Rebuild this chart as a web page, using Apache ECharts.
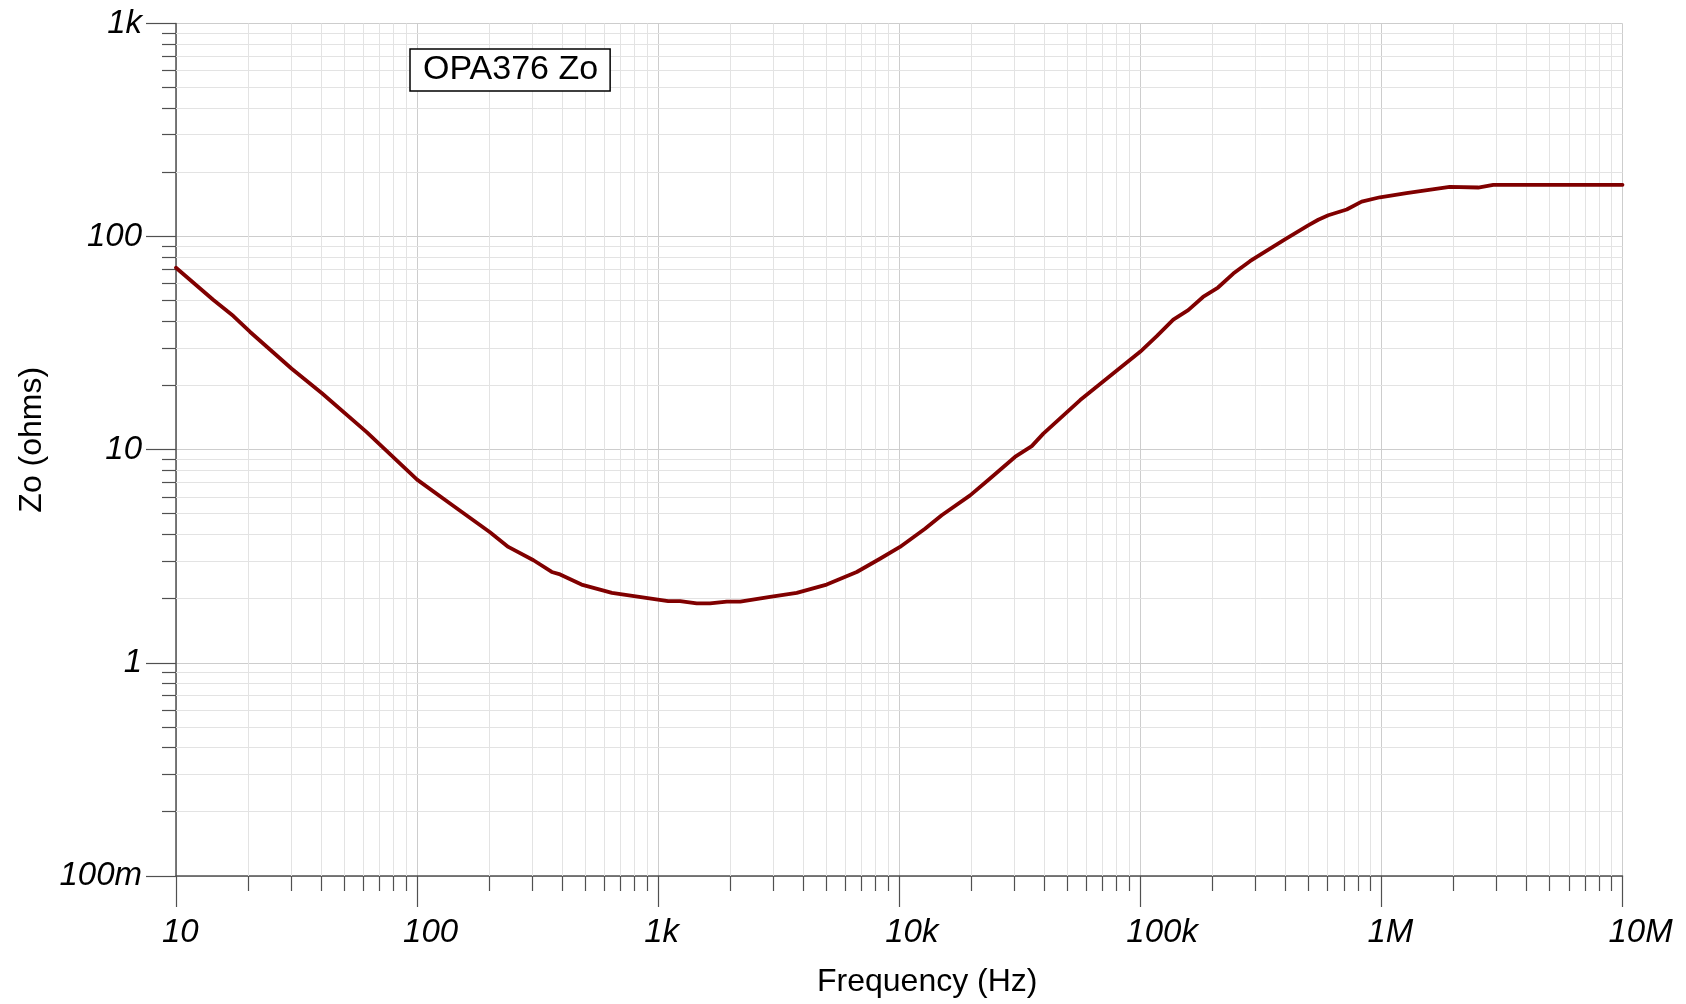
<!DOCTYPE html>
<html>
<head>
<meta charset="utf-8">
<style>
html,body{margin:0;padding:0;background:#fff;}
#chart{width:1686px;height:1004px;}
</style>
<script src="https://cdn.jsdelivr.net/npm/echarts@6/dist/echarts.min.js"></script>
</head>
<body>
<div id="chart"></div>
<script>
// ---- data ----
const seriesName = 'OPA376 Zo';
const freqHz = [10, 14.3, 17.3, 20.3, 30.2, 40.3, 61.8, 100, 137, 200, 239, 304, 362, 392, 481, 643, 1100, 1233, 1445, 1641, 1926, 2190, 2913, 3756, 5000, 6664, 8318, 10070, 12790, 15000, 19680, 23800, 30200, 35450, 39600, 56300, 99800, 117000, 137000, 158000, 182000, 210000, 243000, 285000, 304000, 398000, 497000, 547000, 602000, 718000, 828000, 986000, 1270000, 1920000, 2520000, 2910000, 10000000];
const zoOhms = [71.4, 50.4, 42.4, 35.7, 24.0, 18.4, 12.1, 7.24, 5.59, 4.11, 3.50, 3.03, 2.67, 2.60, 2.33, 2.13, 1.95, 1.95, 1.90, 1.90, 1.94, 1.94, 2.04, 2.13, 2.33, 2.67, 3.08, 3.50, 4.26, 4.93, 6.11, 7.33, 9.25, 10.4, 11.9, 17.1, 28.8, 34.1, 40.8, 45.2, 52.1, 57.7, 67.1, 76.7, 80.4, 97.1, 113, 120, 126, 134, 146, 153, 160, 171, 170, 175, 175];
const xTickValues = [10, 100, 1000, 10000, 100000, 1000000, 10000000];
const xTickLabels = ['10', '100', '1k', '10k', '100k', '1M', '10M'];
const yTickValues = [0.1, 1, 10, 100, 1000];
const yTickLabels = ['100m', '1', '10', '100', '1k'];
const xTitle = 'Frequency (Hz)';
const yTitle = 'Zo (ohms)';

// minor (2..9 per decade) positions
function minorTicks(vals) {
  const out = [];
  for (let i = 0; i < vals.length - 1; i++) {
    for (let m = 2; m <= 9; m++) out.push(vals[i] * m);
  }
  return out;
}
const xMinor = minorTicks(xTickValues);
const yMinor = minorTicks(yTickValues);

function labelFor(v, vals, labels) {
  let best = 0, bd = Infinity;
  for (let i = 0; i < vals.length; i++) {
    const d = Math.abs(Math.log10(v) - Math.log10(vals[i]));
    if (d < bd) { bd = d; best = i; }
  }
  return labels[best];
}

const FONT = "'Liberation Sans', Arial, sans-serif";
const AXIS_COLOR = '#505050';
const MAJOR_GRID = '#cdcdcd';
const MINOR_GRID = '#e3e3e3';

const chart = echarts.init(document.getElementById('chart'), null, {renderer: 'canvas'});

function crisp(v) { return Math.round(v - 0.5) + 0.5; }

const option = {
  backgroundColor: '#fff',
  animation: false,
  textStyle: {fontFamily: FONT},
  grid: {left: 176, right: 63.5, top: 23.5, bottom: 128, containLabel: false, outerBoundsMode: 'none'},
  legend: {
    data: [seriesName],
    left: 410, top: 49,
    itemWidth: 0, itemHeight: 0, icon: 'rect',
    backgroundColor: '#fff',
    borderColor: '#000', borderWidth: 1.5, borderRadius: 0,
    padding: [4, 12, 4, 8],
    selectedMode: false,
    textStyle: {fontSize: 34, color: '#000', fontFamily: FONT}
  },
  xAxis: {
    type: 'log', logBase: 10, min: 10, max: 10000000,
    name: xTitle, nameLocation: 'middle', nameGap: 90,
    nameTextStyle: {fontSize: 32, color: '#000', fontFamily: FONT, padding: [0, 0, 0, 56]},
    axisLine: {show: true, onZero: false, lineStyle: {color: AXIS_COLOR, width: 1.5}},
    axisTick: {show: true, length: 31, lineStyle: {color: AXIS_COLOR, width: 1.2}},
    splitLine: {show: true, lineStyle: {color: MAJOR_GRID, width: 1}},
    minorTick: {show: false}, minorSplitLine: {show: false},
    axisLabel: {
      margin: 40,
      align: 'center',
      formatter: v => '{a|' + labelFor(v, xTickValues, xTickLabels) + '}',
      rich: {a: {width: 28, align: 'left', fontSize: 33, fontStyle: 'italic', fontFamily: FONT, color: '#000'}}
    }
  },
  yAxis: {
    type: 'log', logBase: 10, min: 0.1, max: 1000,
    name: yTitle, nameLocation: 'middle', nameGap: 128,
    nameTextStyle: {fontSize: 32, color: '#000', fontFamily: FONT, padding: [0, 0, 0, 20]},
    axisLine: {show: true, onZero: false, lineStyle: {color: AXIS_COLOR, width: 1.5}},
    axisTick: {show: true, length: 30, lineStyle: {color: AXIS_COLOR, width: 1.2}},
    splitLine: {show: true, lineStyle: {color: MAJOR_GRID, width: 1}},
    minorTick: {show: false}, minorSplitLine: {show: false},
    axisLabel: {
      margin: 34,
      fontSize: 33, fontStyle: 'italic', fontFamily: FONT, color: '#000',
      formatter: v => labelFor(v, yTickValues, yTickLabels)
    }
  },
  series: [
    {
      type: 'custom', name: 'xMinorGrid', silent: true, clip: false, z: 1,
      data: xMinor.map(v => [v, 1]),
      renderItem: function (params, api) {
        const cs = params.coordSys;
        const x = crisp(api.coord([api.value(0), 1])[0]);
        const bottom = cs.y + cs.height;
        return {type: 'group', children: [
          {type: 'line', shape: {x1: x, y1: cs.y, x2: x, y2: bottom}, style: {stroke: MINOR_GRID, lineWidth: 1}},
          {type: 'line', shape: {x1: x, y1: bottom, x2: x, y2: bottom + 15}, style: {stroke: AXIS_COLOR, lineWidth: 1.2}}
        ]};
      }
    },
    {
      type: 'custom', name: 'yMinorGrid', silent: true, clip: false, z: 1,
      data: yMinor.map(v => [100, v]),
      renderItem: function (params, api) {
        const cs = params.coordSys;
        const y = crisp(api.coord([100, api.value(1)])[1]);
        return {type: 'group', children: [
          {type: 'line', shape: {x1: cs.x, y1: y, x2: cs.x + cs.width, y2: y}, style: {stroke: MINOR_GRID, lineWidth: 1}},
          {type: 'line', shape: {x1: cs.x - 14, y1: y, x2: cs.x, y2: y}, style: {stroke: AXIS_COLOR, lineWidth: 1.2}}
        ]};
      }
    },
    {
      type: 'line', name: seriesName, z: 5,
      data: freqHz.map((f, i) => [f, zoOhms[i]]),
      showSymbol: false, symbol: 'none', smooth: false,
      lineStyle: {color: '#800000', width: 3.8, join: 'round', cap: 'round'},
      itemStyle: {color: '#800000'}
    }
  ]
};
chart.setOption(option);
</script>
</body>
</html>
